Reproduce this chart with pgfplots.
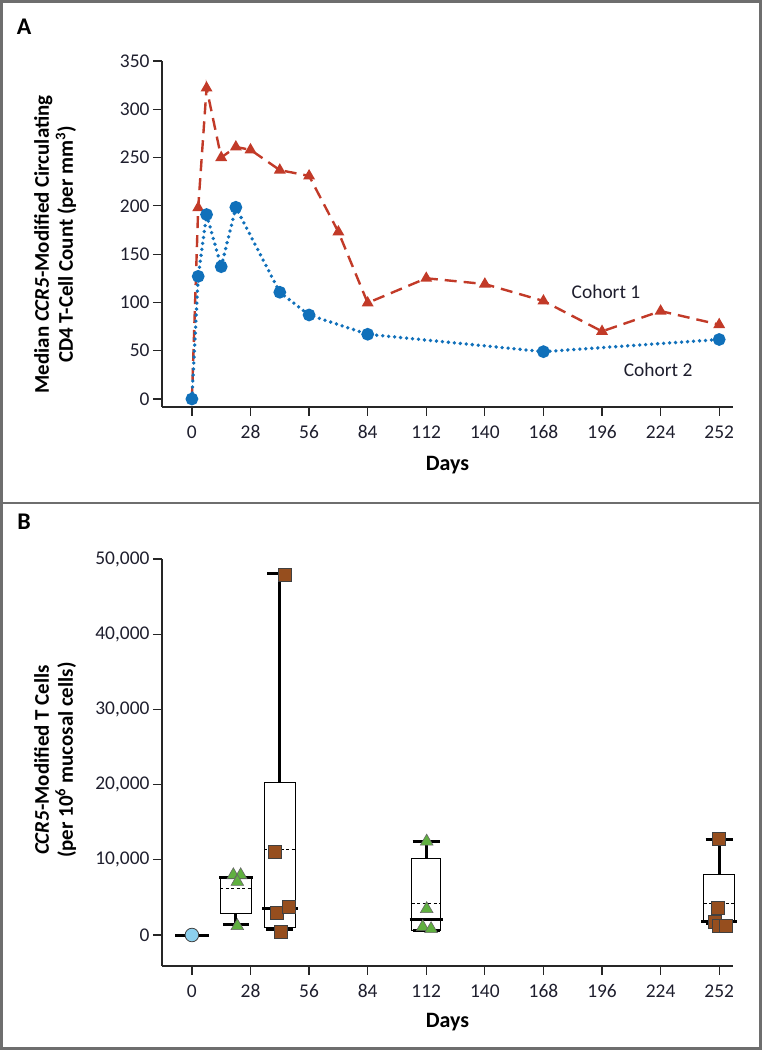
\documentclass[border=0pt]{standalone}
\usepackage{pgfplots}
\pgfplotsset{compat=1.18}
\usepackage{fontspec}
\setmainfont{Carlito}
\definecolor{cred}{RGB}{194,58,40}
\definecolor{cblue}{RGB}{16,112,186}
\definecolor{cgreen}{RGB}{96,176,64}
\definecolor{cbrown}{RGB}{150,78,30}
\definecolor{clblue}{RGB}{140,208,238}
\definecolor{framec}{RGB}{110,110,110}
\definecolor{txt}{RGB}{30,30,45}

\pgfplotsset{
 nejm/.style={
  scale only axis, width=571bp,
  axis x line*=bottom, axis y line*=left,
  axis line style={line width=1.2bp, black!85, -},
  every tick/.style={line width=1.2bp, black!85},
  tick align=outside, major tick length=9bp,
  xmin=-14.3, xmax=258.6,
  xtick={0,28,...,252},
  ticklabel style={font=\fontsize{19.5}{21}\selectfont, text=txt},
  xticklabel shift=6bp,
  /pgf/number format/assume math mode=true,
  xlabel style={font=\fontsize{22}{24}\selectfont\bfseries, at={(axis description cs:0.5,0)}, anchor=center},
  ylabel style={font=\fontsize{21}{24}\selectfont\bfseries, align=center, anchor=center},
  clip=false,
  unbounded coords=jump,
 }
}

\begin{document}
\begin{tikzpicture}
\useasboundingbox (0,0) rectangle (762bp,1050bp);
\draw[framec, line width=3bp] (1.5bp,1.5bp) rectangle (760.5bp,1048.5bp);
\draw[framec, line width=2.5bp] (0,547bp) -- (762bp,547bp);
\node[font=\fontsize{24}{26}\selectfont\bfseries, anchor=center] at (24bp,1023bp) {A};
\node[font=\fontsize{24}{26}\selectfont\bfseries, anchor=center] at (24bp,528bp) {B};

% ---------------- Panel A ----------------
\begin{axis}[nejm,
  at={(162bp,643bp)}, anchor=south west,
  height=346bp,
  ymin=-8.3, ymax=350,
  ytick={0,50,...,350},
  xlabel={Days},
  xlabel style={yshift=-58bp},
  ylabel={Median \textit{CCR5}-Modified Circulating\\CD4 T-Cell Count (per mm\textsuperscript{3})},
  ylabel style={at={(axis description cs:-0.187,0.47)}},
]
\addplot[cred, line width=2.4bp, dash pattern=on 12bp off 7bp,
  mark=triangle*, mark size=4.5bp, mark indices={2,...,16},
  mark options={solid, fill=cred, draw=cred}]
  coordinates {
  (0,0) (3,198) (7,322) (14,250) (21,261) (28,258) (42,237) (56,231)
  (70,173) (84,99.5) (112,125) (140,119) (168,101.5) (196,70) (224,91) (252,77)
  };
\addplot[cblue, line width=3.8bp, line cap=round, dash pattern=on 0bp off 6bp,
  mark=*, mark size=4.4bp, mark options={solid, fill=cblue, draw=cblue}]
  coordinates {
  (0,0) (3,127) (7,191) (14,137) (21,198.5) (42,110.5) (56,87) (84,67) (168,49) (252,61.6)
  };
\node[font=\fontsize{19.5}{20}\selectfont, text=txt] at (axis cs:197.9,110.8) {Cohort 1};
\node[font=\fontsize{19.5}{20}\selectfont, text=txt] at (axis cs:222.8,30.6) {Cohort 2};
\end{axis}

% ---------------- Panel B ----------------
\begin{axis}[nejm,
  at={(162bp,84bp)}, anchor=south west,
  height=407bp,
  ymin=-4120, ymax=50000,
  ytick={0,10000,...,50000},
  scaled y ticks=false,
  yticklabel style={/pgf/number format/.cd, 1000 sep={,}},
  xlabel={Days},
  xlabel style={yshift=-56bp},
  ylabel={\textit{CCR5}-Modified T Cells\\(per 10\textsuperscript{6} mucosal cells)},
  ylabel style={at={(axis description cs:-0.187,0.506)}},
]
% boxes (lower quartile to upper quartile)
\addplot[black, line width=0.9bp] coordinates {
  (13.5,2830) (28.5,2830) (28.5,7650) (13.5,7650) (13.5,2830) (nan,nan)
  (34.5,1060) (49.5,1060) (49.5,20330) (34.5,20330) (34.5,1060) (nan,nan)
  (105,570) (119,570) (119,10140) (105,10140) (105,570) (nan,nan)
  (244.5,1800) (259.5,1800) (259.5,8100) (244.5,8100) (244.5,1800)
};
% mean (dashed)
\addplot[black, line width=0.9bp, dash pattern=on 3bp off 2.5bp] coordinates {
  (13.5,6150) (28.5,6150) (nan,nan)
  (34.5,11330) (49.5,11330) (nan,nan)
  (105,4160) (119,4160) (nan,nan)
  (244.5,4160) (259.5,4160)
};
% whiskers
\addplot[black, line width=3bp] coordinates {
  (21,1370) (21,2830) (nan,nan) (21,7650) (21,7700) (nan,nan)
  (42,700) (42,1060) (nan,nan) (42,20330) (42,48100) (nan,nan)
  (112,10140) (112,12440) (nan,nan)
  (252,1590) (252,1800) (nan,nan) (252,8100) (252,12750)
};
% whisker caps
\addplot[black, line width=3bp] coordinates {
  (14.8,1370) (27.2,1370) (nan,nan) (13,7700) (29,7700) (nan,nan)
  (35.5,700) (48.5,700) (nan,nan) (36,48100) (48,48100) (nan,nan)
  (105.5,570) (118.5,570) (nan,nan) (105.5,12440) (118.5,12440) (nan,nan)
  (245.5,1590) (258.5,1590) (nan,nan) (245.5,12750) (258.5,12750)
};
% medians
\addplot[black, line width=3bp] coordinates {
  (33.5,3590) (50.5,3590) (nan,nan)
  (104,2030) (120,2030) (nan,nan)
  (243.5,1800) (260.5,1800)
};
% day 0
\addplot[black, line width=3bp] coordinates {(-8,0) (8,0)};
\addplot[only marks, mark=*, mark size=6.8bp, mark options={fill=clblue, draw=black!75, line width=0.8bp}]
  coordinates {(0,0)};
% green triangles
\addplot[only marks, mark=triangle*, mark size=7.3bp, mark options={fill=cgreen, draw=black!60, line width=0.6bp}]
  coordinates {(19.8,7970) (23.3,7970) (21.7,7080) (21.7,1200)
               (112.2,12440) (112.2,3460) (110.3,1060) (114.3,800)};
% brown squares
\addplot[only marks, mark=square*, mark size=6.5bp, mark options={fill=cbrown, draw=black!75, line width=0.7bp}]
  coordinates {(44.5,47870) (39.4,11030) (40.5,2920) (46.5,3800) (42.5,480)
               (251.7,12750) (251.5,3670) (249.7,1810) (251.7,1240) (255.3,1240)};
\end{axis}
\end{tikzpicture}
\end{document}
